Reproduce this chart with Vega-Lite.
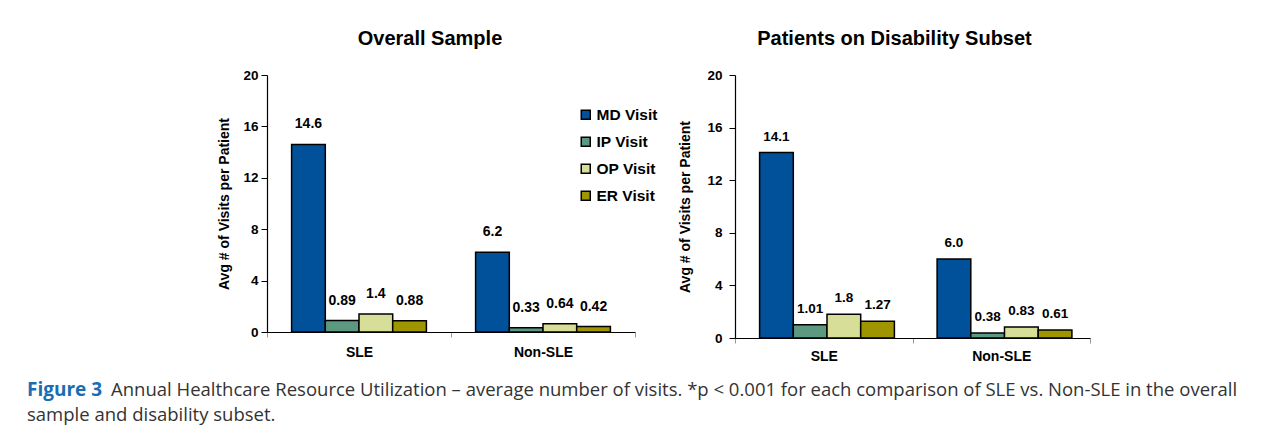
{
  "$schema": "https://vega.github.io/schema/vega-lite/v6.json",
  "padding": {"left": 27, "top": 29, "right": 5, "bottom": 5},
  "background": "white",
  "config": {
    "font": "Liberation Sans",
    "view": {"stroke": null}
  },
  "datasets": {
    "bars": [
      {"panel": "Overall", "group": "SLE", "type": "MD Visit", "value": 14.6, "label": "14.6"},
      {"panel": "Overall", "group": "SLE", "type": "IP Visit", "value": 0.89, "label": "0.89"},
      {"panel": "Overall", "group": "SLE", "type": "OP Visit", "value": 1.4, "label": "1.4"},
      {"panel": "Overall", "group": "SLE", "type": "ER Visit", "value": 0.88, "label": "0.88"},
      {"panel": "Overall", "group": "Non-SLE", "type": "MD Visit", "value": 6.2, "label": "6.2"},
      {"panel": "Overall", "group": "Non-SLE", "type": "IP Visit", "value": 0.33, "label": "0.33"},
      {"panel": "Overall", "group": "Non-SLE", "type": "OP Visit", "value": 0.64, "label": "0.64"},
      {"panel": "Overall", "group": "Non-SLE", "type": "ER Visit", "value": 0.42, "label": "0.42"},
      {"panel": "Disability", "group": "SLE", "type": "MD Visit", "value": 14.1, "label": "14.1"},
      {"panel": "Disability", "group": "SLE", "type": "IP Visit", "value": 1.01, "label": "1.01"},
      {"panel": "Disability", "group": "SLE", "type": "OP Visit", "value": 1.8, "label": "1.8"},
      {"panel": "Disability", "group": "SLE", "type": "ER Visit", "value": 1.27, "label": "1.27"},
      {"panel": "Disability", "group": "Non-SLE", "type": "MD Visit", "value": 6.0, "label": "6.0"},
      {"panel": "Disability", "group": "Non-SLE", "type": "IP Visit", "value": 0.38, "label": "0.38"},
      {"panel": "Disability", "group": "Non-SLE", "type": "OP Visit", "value": 0.83, "label": "0.83"},
      {"panel": "Disability", "group": "Non-SLE", "type": "ER Visit", "value": 0.61, "label": "0.61"}
    ],
    "caption": [
      {"part": "fig", "line": 1, "text": "Figure 3"},
      {"part": "body1", "line": 1, "text": "Annual Healthcare Resource Utilization – average number of visits. *p < 0.001 for each comparison of SLE vs. Non-SLE in the overall"},
      {"part": "body2", "line": 2, "text": "sample and disability subset."}
    ]
  },
  "spacing": 14,
  "vconcat": [
    {
      "spacing": 20,
      "resolve": {"scale": {"color": "independent"}},
      "hconcat": [
        {"data": {"values": []}, "mark": "point", "width": 170, "height": 10},
        {
          "width": 368,
          "height": 257,
          "title": {"text": "Overall Sample", "fontSize": 20, "fontWeight": "bold", "color": "black", "anchor": "middle", "frame": "group", "dx": -21, "offset": 19},
          "data": {"name": "bars"},
          "transform": [{"filter": "datum.panel === 'Overall'"}],
          "encoding": {
            "x": {"field": "group", "type": "nominal", "sort": ["SLE", "Non-SLE"], "scale": {"paddingInner": 0, "paddingOuter": 0},
              "axis": {"title": null, "labelAngle": 0, "labelFontSize": 14, "labelFontWeight": "bold", "labelColor": "black", "domainColor": "black", "domainWidth": 1.2, "tickColor": "#999", "tickSize": 5, "tickBand": "extent", "labelPadding": 8}},
            "xOffset": {"field": "type", "type": "nominal", "sort": ["MD Visit", "IP Visit", "OP Visit", "ER Visit"], "scale": {"paddingInner": 0, "paddingOuter": 0.73}},
            "y": {"field": "value", "type": "quantitative", "scale": {"domain": [0, 20], "nice": false},
              "axis": {"title": "Avg # of Visits per Patient", "titleFontSize": 14, "titleFontWeight": "bold", "titleColor": "black", "titlePadding": 11, "values": [0, 4, 8, 12, 16, 20], "grid": false, "labelFontSize": 13.5, "labelFontWeight": "bold", "labelColor": "black", "domainColor": "black", "domainWidth": 1.2, "tickColor": "black", "tickSize": 6, "labelPadding": 3}}
          },
          "layer": [
            {
              "mark": {"type": "bar", "stroke": "black", "strokeWidth": 1.5},
              "encoding": {
                "color": {"field": "type", "type": "nominal",
                  "scale": {"domain": ["MD Visit", "IP Visit", "OP Visit", "ER Visit"], "range": ["#00519a", "#5d9980", "#d7de98", "#9e9500"]},
                  "legend": {"title": null, "orient": "none", "legendX": 311, "legendY": 32, "symbolType": "square", "symbolSize": 81, "symbolStrokeColor": "black", "symbolStrokeWidth": 1.5, "symbolOpacity": 1, "labelFontSize": 15.5, "labelFontWeight": "bold", "labelColor": "black", "labelOffset": 3, "rowPadding": 10}}
              }
            },
            {
              "mark": {"type": "text", "fontWeight": "bold", "fontSize": 14, "baseline": "middle", "dy": -20, "color": "black"},
              "encoding": {"text": {"field": "label"}}
            }
          ]
        },
        {
          "width": 355,
          "height": 263,
          "title": {"text": "Patients on Disability Subset", "fontSize": 20, "fontWeight": "bold", "color": "black", "anchor": "middle", "frame": "group", "dx": -18, "offset": 19},
          "data": {"name": "bars"},
          "transform": [{"filter": "datum.panel === 'Disability'"}],
          "encoding": {
            "x": {"field": "group", "type": "nominal", "sort": ["SLE", "Non-SLE"], "scale": {"paddingInner": 0, "paddingOuter": 0},
              "axis": {"title": null, "labelAngle": 0, "labelFontSize": 14, "labelFontWeight": "bold", "labelColor": "black", "domainColor": "black", "domainWidth": 1.2, "tickColor": "#999", "tickSize": 5, "tickBand": "extent", "labelPadding": 6}},
            "xOffset": {"field": "type", "type": "nominal", "sort": ["MD Visit", "IP Visit", "OP Visit", "ER Visit"], "scale": {"paddingInner": 0, "paddingOuter": 0.72}},
            "y": {"field": "value", "type": "quantitative", "scale": {"domain": [0, 20], "nice": false},
              "axis": {"title": "Avg # of Visits per Patient", "titleFontSize": 14, "titleFontWeight": "bold", "titleColor": "black", "titlePadding": 14, "values": [0, 4, 8, 12, 16, 20], "grid": false, "labelFontSize": 13.5, "labelFontWeight": "bold", "labelColor": "black", "domainColor": "black", "domainWidth": 1.2, "tickColor": "black", "tickSize": 6, "labelPadding": 7}}
          },
          "layer": [
            {
              "mark": {"type": "bar", "stroke": "black", "strokeWidth": 1.5},
              "encoding": {
                "color": {"field": "type", "type": "nominal",
                  "scale": {"domain": ["MD Visit", "IP Visit", "OP Visit", "ER Visit"], "range": ["#00519a", "#5d9980", "#d7de98", "#9e9500"]},
                  "legend": null}
              }
            },
            {
              "mark": {"type": "text", "fontWeight": "bold", "fontSize": 13.5, "baseline": "middle", "dy": -16, "color": "black"},
              "encoding": {"text": {"field": "label"}}
            }
          ]
        }
      ]
    },
    {
      "width": 1240,
      "height": 50,
      "data": {"name": "caption"},
      "encoding": {
        "y": {"field": "line", "type": "ordinal", "axis": null, "scale": {"type": "point", "padding": 0.5}},
        "text": {"field": "text"}
      },
      "layer": [
        {"transform": [{"filter": "datum.part === 'fig'"}], "mark": {"type": "text", "align": "left", "baseline": "middle", "font": "Open Sans", "fontWeight": "bold", "fontSize": 19, "color": "#1b6db3", "x": 0}},
        {"transform": [{"filter": "datum.part === 'body1'"}], "mark": {"type": "text", "align": "left", "baseline": "middle", "font": "Open Sans", "fontSize": 18.5, "color": "#333333", "x": 0, "dx": 84}},
        {"transform": [{"filter": "datum.part === 'body2'"}], "mark": {"type": "text", "align": "left", "baseline": "middle", "font": "Open Sans", "fontSize": 18.5, "color": "#333333", "x": 0}}
      ]
    }
  ]
}
